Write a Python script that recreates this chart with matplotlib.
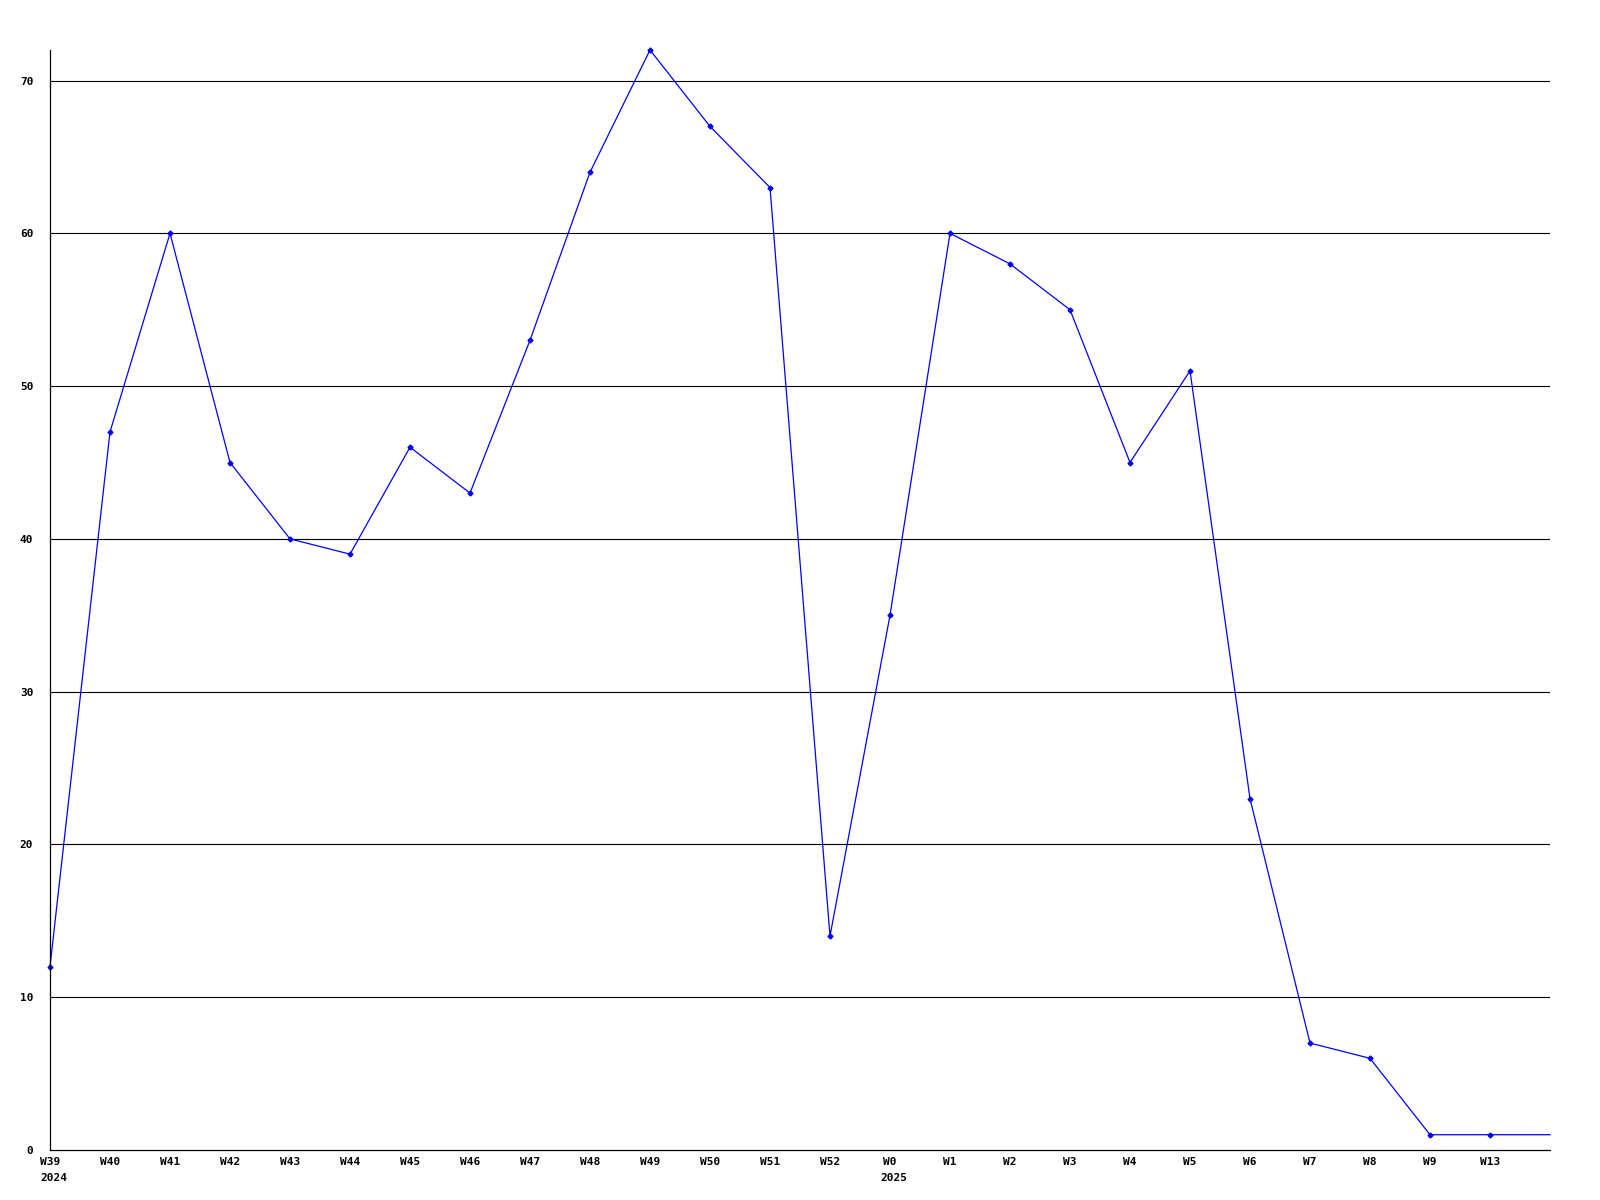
import matplotlib
matplotlib.use('Agg')
import matplotlib.pyplot as plt

weeks = ['W39', 'W40', 'W41', 'W42', 'W43', 'W44', 'W45', 'W46', 'W47', 'W48',
         'W49', 'W50', 'W51', 'W52', 'W0', 'W1', 'W2', 'W3', 'W4', 'W5',
         'W6', 'W7', 'W8', 'W9', 'W13']
counts = [12, 47, 60, 45, 40, 39, 46, 43, 53, 64,
          72, 67, 63, 14, 35, 60, 58, 55, 45, 51,
          23, 7, 6, 1, 1]
years = {'W39': '2024', 'W0': '2025'}
yticks = [0, 10, 20, 30, 40, 50, 60, 70]

plt.rcParams['font.family'] = 'DejaVu Sans Mono'
plt.rcParams['font.weight'] = 'bold'
plt.rcParams['font.size'] = 8

fig = plt.figure(figsize=(16, 12), dpi=100)
ax = fig.add_axes([50 / 1600, 50 / 1200, 1500 / 1600, 1100 / 1200])

x = list(range(len(weeks)))
# line runs on to the right edge at the last value
ax.plot(x + [len(weeks)], counts + [counts[-1]], color='#0000ff', linewidth=0.9, clip_on=False)
ax.plot(x, counts, linestyle='none', marker='D', markersize=2.5, color='#0000ff', clip_on=False)

for y in yticks[1:]:
    ax.axhline(y, color='black', linewidth=0.8, zorder=0)

ax.set_xlim(0, len(weeks))
ax.set_ylim(0, 72)
ax.set_xticks(x)
ax.set_xticklabels(weeks)
ax.set_yticks(yticks)
ax.tick_params(axis='both', length=0)
ax.tick_params(axis='x', pad=5)
ax.tick_params(axis='y', pad=12)

for i, w in enumerate(weeks):
    if w in years:
        ax.text(i - 10 / 60, -0.021, years[w], transform=ax.get_xaxis_transform(),
                ha='left', va='top', fontsize=8, fontweight='bold')

for s in ['top', 'right']:
    ax.spines[s].set_visible(False)
for s in ['left', 'bottom']:
    ax.spines[s].set_linewidth(0.9)

fig.savefig('out.png', dpi=100)
